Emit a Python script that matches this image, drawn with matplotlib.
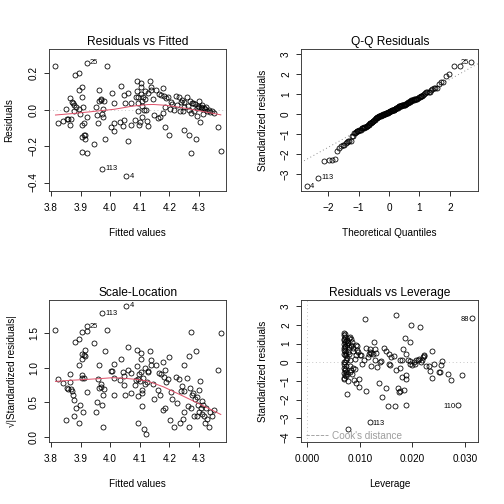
import numpy as np
import matplotlib
matplotlib.use("Agg")
import matplotlib.pyplot as plt
from matplotlib.lines import Line2D
from statistics import NormalDist

plt.rcParams['font.family'] = ['Liberation Sans', 'DejaVu Sans']

# fitted values and residuals of the model (read from "Residuals vs Fitted")
fitted_vals = [
    3.815, 3.825, 3.842, 3.850, 3.853, 3.858, 3.867, 3.863, 3.864, 3.874,
    3.876, 3.880, 3.883, 3.876, 3.895, 3.895, 3.896, 3.897, 3.904, 3.906,
    3.907, 3.904, 3.910, 3.903, 3.910, 3.914, 3.915, 3.903, 3.923, 3.920,
    3.920, 3.945, 3.953, 3.957, 3.958, 3.963, 3.962, 3.970, 3.978, 3.974,
    3.973, 3.976, 3.983, 3.973, 3.989, 4.004, 4.006, 4.012, 4.014, 4.014,
    4.034, 4.036, 4.045, 4.048, 4.051, 4.059, 4.060, 4.055, 4.070, 4.071,
    4.084, 4.086, 4.090, 4.091, 4.094, 4.095, 4.098, 4.102, 4.103, 4.105,
    4.105, 4.108, 4.108, 4.109, 4.110, 4.113, 4.117, 4.120, 4.125, 4.127,
    4.127, 4.136, 4.137, 4.138, 4.145, 4.147, 4.156, 4.163, 4.168, 4.172,
    4.177, 4.179, 4.181, 4.185, 4.185, 4.190, 4.198, 4.195, 4.204, 4.210,
    4.215, 4.222, 4.226, 4.233, 4.236, 4.240, 4.246, 4.251, 4.251, 4.260,
    4.265, 4.267, 4.269, 4.272, 4.274, 4.277, 4.281, 4.289, 4.292, 4.294,
    4.299, 4.301, 4.303, 4.306, 4.310, 4.314, 4.317, 4.320, 4.324, 4.326,
    4.333, 4.338, 4.344, 4.351, 4.364, 4.374, 4.250, 4.284, 4.043, 4.288,
    4.297, 4.312, 4.262, 4.244, 3.870, 4.118, 4.166, 3.969, 4.093, 4.203]

residuals = [
    0.242, -0.072, -0.061, 0.006, -0.051, -0.048, -0.048, -0.083, 0.064, 0.037,
    0.029, 0.191, 0.018, -0.009, 0.202, 0.110, 0.004, -0.022, 0.128, 0.073,
    0.013, -0.081, -0.073, -0.147, -0.141, -0.161, -0.139, -0.231, -0.239, -0.042,
    0.259, -0.187, 0.013, -0.026, -0.070, 0.108, 0.051, 0.053, 0.048, 0.002,
    -0.022, -0.037, -0.158, -0.323, 0.240, -0.092, 0.092, -0.114, -0.073, 0.037,
    -0.068, 0.130, 0.079, -0.057, 0.037, 0.094, -0.171, -0.365, 0.040, -0.086,
    -0.057, 0.068, 0.161, 0.106, 0.072, -0.004, -0.083, -0.066, 0.150, 0.128,
    0.088, 0.046, -0.040, 0.020, 0.073, 0.0012, 0.101, -0.0002, -0.064, -0.088,
    0.092, 0.158, 0.125, 0.108, 0.059, -0.031, 0.108, -0.046, -0.037, 0.083,
    -0.015, 0.119, 0.077, -0.095, 0.018, 0.064, -0.136, 0.070, 0.042, 0.031,
    -0.002, 0.077, 0.024, 0.070, -0.004, 0.044, -0.007, -0.110, 0.044, 0.073,
    -0.002, -0.138, 0.051, -0.235, -0.018, 0.037, 0.040, -0.158, -0.033, 0.009,
    0.013, 0.046, -0.066, 0.018, 0.028, -0.022, 0.009, 0.004, 0.018, -0.007,
    -0.002, -0.013, -0.009, -0.015, -0.095, -0.228, 0.013, -0.009, -0.088, 0.030,
    0.022, 0.011, 0.020, 0.055, 0.045, 0.060, 0.087, 0.060, 0.035, 0.006]

sigma_hat = 0.101
extreme_ids = ['4', '113', '25']   # largest |residual| first

# leverage and standardized residuals (read from "Residuals vs Leverage")
leverage = [
    0.00696, 0.00703, 0.00715, 0.00696, 0.00722, 0.00696, 0.00728, 0.00703, 0.00722, 0.00696,
    0.00747, 0.00696, 0.00728, 0.00703, 0.00722, 0.00696, 0.00722, 0.00703, 0.00747, 0.00766,
    0.00778, 0.00759, 0.00785, 0.00797, 0.00778, 0.00810, 0.00842, 0.00861, 0.00835, 0.00873,
    0.00823, 0.00842, 0.00873, 0.00810, 0.00892, 0.00905, 0.00924, 0.00937, 0.00956, 0.00968,
    0.00981, 0.00937, 0.00981, 0.01000, 0.01019, 0.01051, 0.01076, 0.01095, 0.01127, 0.01127,
    0.01158, 0.01190, 0.01177, 0.01203, 0.01222, 0.01215, 0.01253, 0.01272, 0.01285, 0.01297,
    0.01316, 0.01329, 0.01367, 0.01380, 0.01399, 0.01430, 0.01456, 0.01494, 0.01506, 0.01544,
    0.01557, 0.01570, 0.01557, 0.01589, 0.01646, 0.01671, 0.01684, 0.01696, 0.01728, 0.01741,
    0.01759, 0.01759, 0.01772, 0.01810, 0.01810, 0.01829, 0.01842, 0.01854, 0.01873, 0.01880,
    0.01886, 0.01886, 0.01918, 0.01949, 0.01949, 0.01962, 0.01981, 0.02000, 0.02025, 0.02057,
    0.02076, 0.02101, 0.02127, 0.02152, 0.02165, 0.02190, 0.02203, 0.02215, 0.02228, 0.02266,
    0.02316, 0.02342, 0.02367, 0.02380, 0.02405, 0.02506, 0.02519, 0.02551, 0.02570, 0.02690,
    0.02741, 0.02873, 0.02949, 0.03133, 0.01190,
    0.0071, 0.0070, 0.0073, 0.0075, 0.0072, 0.0069, 0.0074, 0.0071, 0.0076, 0.0073,
    0.0070, 0.0074, 0.0071, 0.0073, 0.0075, 0.0070, 0.0078, 0.0080, 0.0083, 0.0079,
    0.0088, 0.0086, 0.0091, 0.0082, 0.0095]

lev_std_resid = [
    1.588, 1.462, 1.336, 1.191, 1.083, 0.975, 0.866, 0.740, 0.614, 0.469,
    0.379, 0.018, 0.018, -0.289, -0.433, -0.578, -0.704, -0.830, -0.758, -1.697,
    -3.592, 1.191, 1.011, 0.794, 0.560, 1.372, 1.227, 1.101, 0.921, 0.740,
    -0.523, -0.397, -0.289, -0.217, -0.939, 0.199, 0.379, 0.921, 0.650, 0.560,
    -0.884, -1.119, -1.336, 0.379, 0.379, -0.072, 0.144, 2.310, -1.552, 0.740,
    0.289, 0.686, 0.469, 0.560, 0.505, -0.217, 0.469, 1.065, 0.108, 0.686,
    0.505, -0.253, -1.119, 0.018, 0.054, -1.841, 0.740, -1.372, 0.596, -2.329,
    0.469, -0.162, -0.108, 0.289, 0.325, -2.365, 2.545, -0.433, -1.372, -1.606,
    -1.516, 0.144, -0.307, 0.144, -0.794, 0.722, -1.480, 1.282, -0.884, -2.292,
    0.469, -0.704, 0.108, 1.101, 0.072, -0.072, 2.004, -0.162, 0.018, -0.072,
    0.144, 0.108, 0.199, 1.877, 0.018, 0.144, 0.289, 0.343, 0.379, -0.217,
    -0.217, -0.487, 0.614, -0.830, -0.108, -0.523, -0.505, -0.162, 0.072, -0.614,
    -0.939, -2.274, -0.704, 2.383, -3.195,
    1.52, 1.25, 1.12, 0.93, 0.80, 0.68, 0.52, 0.40, 0.25, 0.10,
    -0.10, -0.20, -0.36, -0.50, -0.62, -0.92, -1.00, 0.45, 0.85, 1.30,
    0.62, -0.60, -0.35, 0.10, 0.85]

cook_ids = ['88', '110', '113']   # largest Cook's distance first


def lowess(x, y, f=2/3, iters=3):
    # plain lowess like R's panel.smooth
    order = np.argsort(x)
    x = np.asarray(x, float)[order]
    y = np.asarray(y, float)[order]
    n = len(x)
    r = int(np.ceil(f * n))
    d = np.abs(x[None, :] - x[:, None])
    h = np.sort(d, axis=1)[:, r - 1]
    w = np.clip(d / h[:, None], 0, 1)
    w = (1 - w ** 3) ** 3
    robust = np.ones(n)
    yest = np.zeros(n)
    for _ in range(iters + 1):
        for i in range(n):
            wi = w[i] * robust
            sw, swx = wi.sum(), (wi * x).sum()
            swy, swxx, swxy = (wi * y).sum(), (wi * x * x).sum(), (wi * x * y).sum()
            den = sw * swxx - swx ** 2
            if abs(den) < 1e-12:
                yest[i] = swy / sw
            else:
                b = (sw * swxy - swx * swy) / den
                a = (swy - b * swx) / sw
                yest[i] = a + b * x[i]
        res = y - yest
        s = np.median(np.abs(res))
        u = np.clip(res / (6 * s), -1, 1)
        robust = (1 - u ** 2) ** 2
    return x, yest


fit = np.array(fitted_vals)
res = np.array(residuals)
std_res = res / sigma_hat
lev = np.array(leverage)
lev_sr = np.array(lev_std_resid)
n = len(res)

RED = '#DF536B'
FS = 10
pt = dict(marker='o', mfc='none', mec='black', mew=0.8, ms=5, ls='none')


def style(ax):
    for sp in ax.spines.values():
        sp.set_linewidth(0.9)
        sp.set_color('#333333')
    ax.tick_params(length=5, width=0.8, labelsize=FS, direction='out')
    ax.tick_params(axis='x', pad=7)
    ax.tick_params(axis='y', pad=5)
    for lab in ax.get_yticklabels():
        lab.set_rotation(90)
        lab.set_va('center')


def label_pts(ax, xs, ys, names, xmid, dy=0):
    for xv, yv, nm in zip(xs, ys, names):
        if xv < xmid:
            ax.annotate(nm, (xv, yv), xytext=(3, dy), textcoords='offset points',
                        ha='left', va='center', fontsize=7.5)
        else:
            ax.annotate(nm, (xv, yv), xytext=(-3, dy), textcoords='offset points',
                        ha='right', va='center', fontsize=7.5)


fig = plt.figure(figsize=(7, 7), dpi=72)
W, H = 0.352, 0.281
ax1 = fig.add_axes([0.0972, 0.6216, W, H])
ax2 = fig.add_axes([0.5972, 0.6216, W, H])
ax3 = fig.add_axes([0.0972, 0.1236, W, H])
ax4 = fig.add_axes([0.5972, 0.1236, W, H])

top3 = np.argsort(-np.abs(res))[:3]

# Residuals vs Fitted
ax1.axhline(0, color='#BEBEBE', lw=0.9, ls=(0, (1, 3)))
ax1.plot(fit, res, **pt)
sx, sy = lowess(fit, res)
ax1.plot(sx, sy, color=RED, lw=1)
label_pts(ax1, fit[top3], res[top3], extreme_ids, 4.093)
ax1.set_xlim(3.793, 4.393)
ax1.set_ylim(-0.445, 0.334)
ax1.set_xticks([3.8, 3.9, 4.0, 4.1, 4.2, 4.3])
ax1.set_yticks([-0.4, -0.2, 0.0, 0.2])
ax1.set_title('Residuals vs Fitted', fontsize=12, pad=4)
ax1.set_xlabel('Fitted values', fontsize=FS, labelpad=15)
ax1.set_ylabel('Residuals', fontsize=FS, labelpad=15)
style(ax1)

# Q-Q Residuals
nd = NormalDist()
theo = np.array([nd.inv_cdf((i + 0.5) / n) for i in range(n)])
order = np.argsort(std_res)
samp = std_res[order]
q1, q3 = np.quantile(std_res, [0.25, 0.75])
z1, z3 = nd.inv_cdf(0.25), nd.inv_cdf(0.75)
slope = (q3 - q1) / (z3 - z1)
icpt = q1 - slope * z1
xl = np.array([-3.0, 3.0])
ax2.plot(xl, icpt + slope * xl, color='#7F7F7F', lw=0.9, ls=(0, (1, 3)))
ax2.plot(theo, samp, **pt)
rank = np.empty(n, int)
rank[order] = np.arange(n)
label_pts(ax2, theo[rank[top3]], std_res[top3], extreme_ids, 0.0)
ax2.set_xlim(-2.895, 2.94)
ax2.set_ylim(-3.84, 3.23)
ax2.set_xticks([-2, -1, 0, 1, 2])
ax2.set_yticks([-3, -2, -1, 0, 1, 2, 3])
ax2.set_title('Q-Q Residuals', fontsize=12, pad=4)
ax2.set_xlabel('Theoretical Quantiles', fontsize=FS, labelpad=15)
ax2.set_ylabel('Standardized residuals', fontsize=FS, labelpad=13)
style(ax2)

# Scale-Location
sl = np.sqrt(np.abs(std_res))
ax3.plot(fit, sl, **pt)
sx, sy = lowess(fit, sl)
ax3.plot(sx, sy, color=RED, lw=1)
label_pts(ax3, fit[top3], sl[top3], extreme_ids, 4.093)
ax3.set_xlim(3.793, 4.393)
ax3.set_ylim(-0.068, 1.98)
ax3.set_xticks([3.8, 3.9, 4.0, 4.1, 4.2, 4.3])
ax3.set_yticks([0.0, 0.5, 1.0, 1.5])
ax3.set_title('Scale-Location', fontsize=12, pad=4)
ax3.set_xlabel('Fitted values', fontsize=FS, labelpad=15)
ax3.set_ylabel('\u221a|Standardized residuals|', fontsize=FS, labelpad=12)
style(ax3)

# Residuals vs Leverage
ax4.axhline(0, color='#BEBEBE', lw=0.9, ls=(0, (1, 3)))
ax4.axvline(0, color='#BEBEBE', lw=0.9, ls=(0, (1, 3)))
ax4.plot(lev, lev_sr, **pt)
cook = lev_sr ** 2 * lev / (1 - lev)
topc = np.argsort(-cook)[:3]
label_pts(ax4, lev[topc], lev_sr[topc], cook_ids, 0.0157, dy=-2)
ax4.set_xlim(-0.0012, 0.0326)
ax4.set_ylim(-4.25, 3.33)
ax4.set_xticks([0.0, 0.01, 0.02, 0.03])
ax4.set_xticklabels(['0.000', '0.010', '0.020', '0.030'])
ax4.set_yticks([-4, -3, -2, -1, 0, 1, 2, 3])
ax4.set_title('Residuals vs Leverage', fontsize=12, pad=4)
ax4.set_xlabel('Leverage', fontsize=FS, labelpad=15)
ax4.set_ylabel('Standardized residuals', fontsize=FS, labelpad=13)
leg = ax4.legend([Line2D([], [], color='#9E9E9E', ls='--', lw=0.9)], ["Cook's distance"],
                 loc='lower left', frameon=False, fontsize=FS, handlelength=2.2,
                 handletextpad=0.4, borderaxespad=0.0, bbox_to_anchor=(0.005, -0.02))
for t in leg.get_texts():
    t.set_color('#9E9E9E')
style(ax4)

fig.savefig('out.png', dpi=72)
